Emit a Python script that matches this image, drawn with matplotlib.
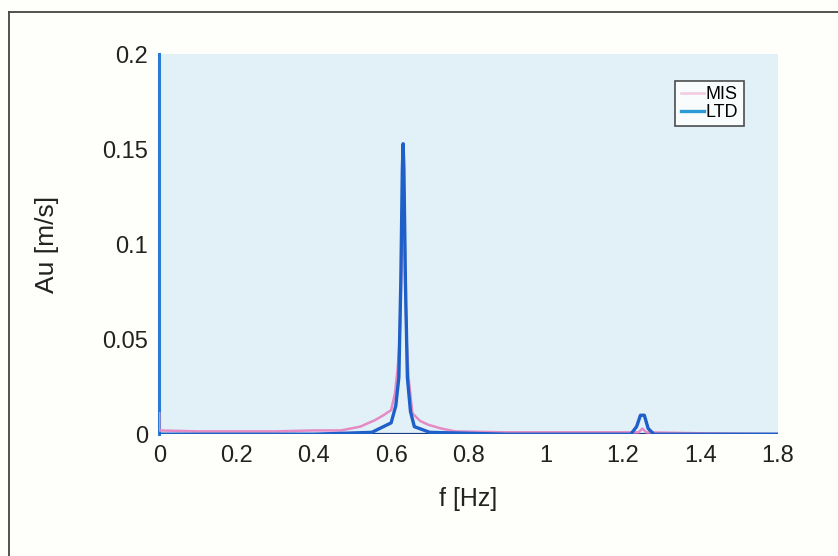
import matplotlib.pyplot as plt
from matplotlib.lines import Line2D

# values
f_mis = [0.0, 0.0, 0.1, 0.2, 0.3, 0.4, 0.47, 0.52, 0.558, 0.58, 0.60, 0.61,
         0.617, 0.622, 0.627, 0.631, 0.635, 0.64, 0.645, 0.655, 0.675, 0.696,
         0.73, 0.766, 0.9, 1.1, 1.24, 1.25, 1.26, 1.4, 1.6]
au_mis = [0.011, 0.002, 0.0015, 0.0015, 0.0015, 0.002, 0.002, 0.004, 0.0074, 0.010, 0.0127, 0.0216,
          0.035, 0.05, 0.09, 0.152, 0.09, 0.05, 0.03, 0.011, 0.007, 0.005,
          0.003, 0.0015, 0.001, 0.001, 0.001, 0.003, 0.001, 0.0005, 0.0]

f_ltd = [0.0, 0.2, 0.4, 0.55, 0.6, 0.612, 0.62, 0.625, 0.629, 0.631, 0.633,
         0.637, 0.642, 0.65, 0.66, 0.7, 0.9, 1.1, 1.22, 1.235, 1.245, 1.255,
         1.265, 1.28, 1.4, 1.6]
au_ltd = [0.0, 0.0, 0.0, 0.001, 0.006, 0.015, 0.03, 0.08, 0.14, 0.153, 0.14,
          0.08, 0.03, 0.012, 0.004, 0.001, 0.0, 0.0, 0.0, 0.004, 0.010, 0.010,
          0.003, 0.0, 0.0, 0.0]

xticks = [0, 0.2, 0.4, 0.6, 0.8, 1.0, 1.2, 1.4, 1.6]
xtick_labels = ['0', '0.2', '0.4', '0.6', '0.8', '1', '1.2', '1.4', '1.8']
yticks = [0, 0.05, 0.1, 0.15, 0.2]
ytick_labels = ['0', '0.05', '0.1', '0.15', '0.2']

plt.rcParams['font.family'] = ['Liberation Sans', 'DejaVu Sans']

fig = plt.figure(figsize=(8.38, 5.56), dpi=100, facecolor='#fefefa')
ax = fig.add_axes([0.19, 0.219, 0.738, 0.683])
ax.set_facecolor('#e2f1f8')

# scan frame (top and left edges)
fig.add_artist(Line2D([0.011, 0.011], [0.0, 0.978], color='#444444', lw=1.3))
fig.add_artist(Line2D([0.011, 1.0], [0.978, 0.978], color='#444444', lw=1.3))

ax.plot(f_mis, au_mis, color='#e58ac4', lw=1.8, label='MIS', zorder=3)
ax.plot(f_ltd, au_ltd, color='#1f5fc8', lw=2.4, label='LTD', zorder=4)
ax.axhline(0, color='#1a3f8a', lw=1.6, zorder=2)

ax.set_xlim(0, 1.6)
ax.set_ylim(0, 0.2)
ax.set_xticks(xticks)
ax.set_xticklabels(xtick_labels)
ax.set_yticks(yticks)
ax.set_yticklabels(ytick_labels)
ax.tick_params(axis='both', labelsize=17, colors='#222222', length=0, pad=8)

for side in ['top', 'right', 'bottom']:
    ax.spines[side].set_visible(False)
ax.spines['left'].set_color('#2b7bd6')
ax.spines['left'].set_linewidth(2.2)

ax.set_xlabel('f [Hz]', fontsize=18, color='#222222', labelpad=14)
ax.set_ylabel('Au [m/s]', fontsize=19, color='#222222', labelpad=31)

leg = ax.legend(loc='upper right', bbox_to_anchor=(0.96, 0.955), fontsize=13,
                frameon=True, fancybox=False, handlelength=1.3, handletextpad=0.1,
                borderpad=0.3, labelspacing=0.05)
leg.get_frame().set_edgecolor('#222222')
leg.get_frame().set_facecolor('#ffffff')
leg.get_frame().set_linewidth(1.2)
leg.get_lines()[0].set_color('#f3c9e2')
leg.get_lines()[1].set_color('#2b9bd6')

plt.savefig('out.png', dpi=100, facecolor=fig.get_facecolor())
plt.close()
